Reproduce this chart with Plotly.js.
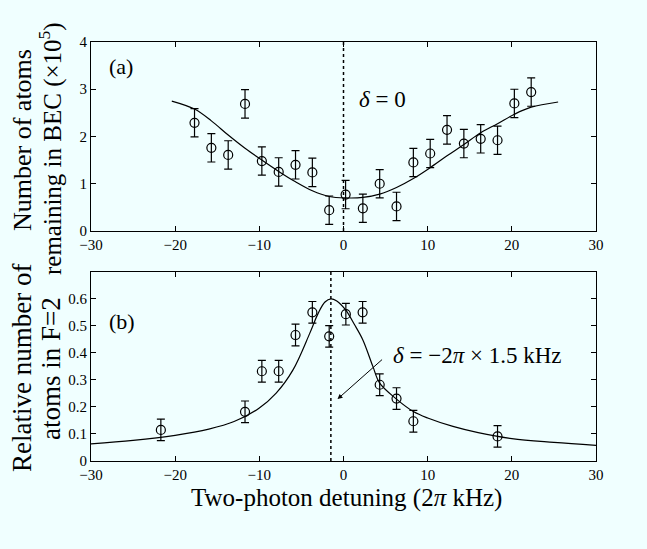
<!DOCTYPE html>
<html><head><meta charset="utf-8">
<script src="https://cdn.plot.ly/plotly-3.0.1.min.js"></script>
<style>body{margin:0;background:#f0ffff}</style>
</head><body><div id="chart" style="width:647px;height:549px"></div>
<script>
// Panel (a) data
const aX = [-17.7,-15.7,-13.7,-11.7,-9.7,-7.7,-5.7,-3.7,-1.7,0.25,2.3,4.3,6.3,8.3,10.3,12.3,14.3,16.3,18.3,20.3,22.3];
const aY = [2.29,1.76,1.61,2.69,1.48,1.25,1.40,1.24,0.44,0.77,0.48,1.00,0.52,1.45,1.64,2.14,1.85,1.95,1.92,2.70,2.94];
const aErr = [0.30,0.30,0.30,0.30,0.30,0.30,0.30,0.30,0.30,0.30,0.30,0.30,0.30,0.30,0.30,0.30,0.30,0.30,0.30,0.30,0.30];
const aFitX = [-20.4,-17.7,-15.7,-13.7,-11.7,-9.7,-7.7,-5.7,-3.7,-1.7,0.25,2.3,4.3,6.3,8.3,10.3,12.3,14.3,16.3,18.3,20.3,22.3,25.5];
const aFitY = [2.75,2.58,2.33,2.03,1.75,1.50,1.26,1.04,0.85,0.73,0.70,0.71,0.78,0.92,1.11,1.34,1.59,1.83,2.08,2.27,2.47,2.62,2.73];
// Panel (b) data
const bX = [-21.7,-11.7,-9.7,-7.7,-5.7,-3.7,-1.7,0.28,2.27,4.3,6.3,8.3,18.3];
const bY = [0.115,0.182,0.332,0.332,0.466,0.550,0.461,0.543,0.550,0.282,0.231,0.147,0.091];
const bErr = [0.04,0.04,0.04,0.04,0.04,0.04,0.04,0.04,0.04,0.04,0.04,0.04,0.04];
const bFitX = [-30,-25,-20,-16,-13,-10,-8,-6,-4,-3,-2.2,-1.5,-0.8,0.25,1.3,2.3,3.5,4.3,6.3,8.3,10,13,16,20,25,30];
const bFitY = [0.063,0.076,0.095,0.118,0.146,0.196,0.251,0.337,0.473,0.547,0.588,0.600,0.592,0.559,0.505,0.448,0.349,0.288,0.229,0.183,0.159,0.128,0.105,0.083,0.069,0.058];
const xTicks = [-30,-20,-10,0,10,20,30];
const aTicks = [0,1,2,3,4];
const bTicks = [0,0.1,0.2,0.3,0.4,0.5,0.6];
const bTickText = ['0','0.1','0.2','0.3','0.4','0.5','0.6'];

const font = 'Liberation Serif, Times New Roman, serif';
const errStyle = {type:'data', visible:true, color:'black', thickness:1.2, width:4};
const traces = [
  {x:aFitX, y:aFitY, mode:'lines', line:{color:'black', width:1.2, shape:'spline'}, xaxis:'x', yaxis:'y', hoverinfo:'skip'},
  {x:aX, y:aY, mode:'markers', marker:{symbol:'circle-open', size:9, color:'black', line:{width:1.2}},
   error_y:Object.assign({array:aErr}, errStyle), xaxis:'x', yaxis:'y'},
  {x:[0,0], y:[0,4], mode:'lines', line:{color:'black', width:1.5, dash:'3px,3px'}, xaxis:'x', yaxis:'y'},
  {x:bFitX, y:bFitY, mode:'lines', line:{color:'black', width:1.2, shape:'spline'}, xaxis:'x2', yaxis:'y2'},
  {x:bX, y:bY, mode:'markers', marker:{symbol:'circle-open', size:9, color:'black', line:{width:1.2}},
   error_y:Object.assign({array:bErr}, errStyle), xaxis:'x2', yaxis:'y2'},
  {x:[-1.5,-1.5], y:[0,0.7], mode:'lines', line:{color:'black', width:1.5, dash:'3px,3px'}, xaxis:'x2', yaxis:'y2'}
];
const axBase = {showline:true, linecolor:'black', linewidth:1, mirror:'ticks', ticks:'inside', ticklen:5,
  tickcolor:'black', showgrid:false, zeroline:false, tickfont:{family:font, size:15, color:'black'}};
const xText = xTicks.map(v=>v<0?'\u2212'+(-v):''+v);
// pixel-positioned labels (converted to paper coordinates below)
const pixLabels = [
  {text:'Number of atoms', textangle:-90, px:22, py:140, size:26},
  {text:'remaining in BEC (×10<sup>5</sup>)', textangle:-90, px:50, py:149, size:25},
  {text:'Relative number of', textangle:-90, px:22, py:368, size:27},
  {text:'atoms in F=2', textangle:-90, px:51, py:369, size:27},
  {text:'Two-photon detuning (2<i>π</i> kHz)', textangle:0, px:346, py:498, size:25}
].map(a=>({text:a.text, textangle:a.textangle, xref:'paper', yref:'paper', x:(a.px-91)/505, y:(461-a.py)/419,
  xanchor:'center', yanchor:'middle', showarrow:false, font:{family:font, size:a.size}}));
const layout = {
  width:647, height:549, showlegend:false,
  paper_bgcolor:'#f0ffff', plot_bgcolor:'#f0ffff',
  margin:{l:91, r:51, t:42, b:88},
  font:{family:font, color:'black'},
  xaxis: Object.assign({}, axBase, {range:[-30,30], tickvals:xTicks, ticktext:xText, domain:[0,1], anchor:'y'}),
  yaxis: Object.assign({}, axBase, {range:[0,4], tickvals:aTicks, domain:[0.549,1], anchor:'x'}),
  xaxis2: Object.assign({}, axBase, {range:[-30,30], tickvals:xTicks, ticktext:xText, domain:[0,1], anchor:'y2'}),
  yaxis2: Object.assign({}, axBase, {range:[0,0.699], tickvals:bTicks, ticktext:bTickText, domain:[0,0.451], anchor:'x2'}),
  annotations:[
    {text:'(a)', x:-26.4, y:3.49, xref:'x', yref:'y', showarrow:false, font:{family:font, size:22}},
    {text:'<i>δ</i> = 0', x:1.6, y:2.79, xref:'x', yref:'y', xanchor:'left', showarrow:false, font:{family:font, size:23}},
    {text:'(b)', x:-26.3, y:0.516, xref:'x2', yref:'y2', showarrow:false, font:{family:font, size:22}},
    {text:'<i>δ</i> = −2<i>π</i> × 1.5 kHz', x:5.6, y:0.39, xref:'x2', yref:'y2', xanchor:'left', showarrow:false, font:{family:font, size:23}},
    {text:'', x:-0.71, y:0.229, ax:4.76, ay:0.38, axref:'x2', ayref:'y2', xref:'x2', yref:'y2', showarrow:true, arrowhead:2, arrowsize:1, arrowwidth:1, arrowcolor:'black'}
  ].concat(pixLabels)
};
Plotly.newPlot('chart', traces, layout, {displayModeBar:false, staticPlot:true});
</script></body></html>
